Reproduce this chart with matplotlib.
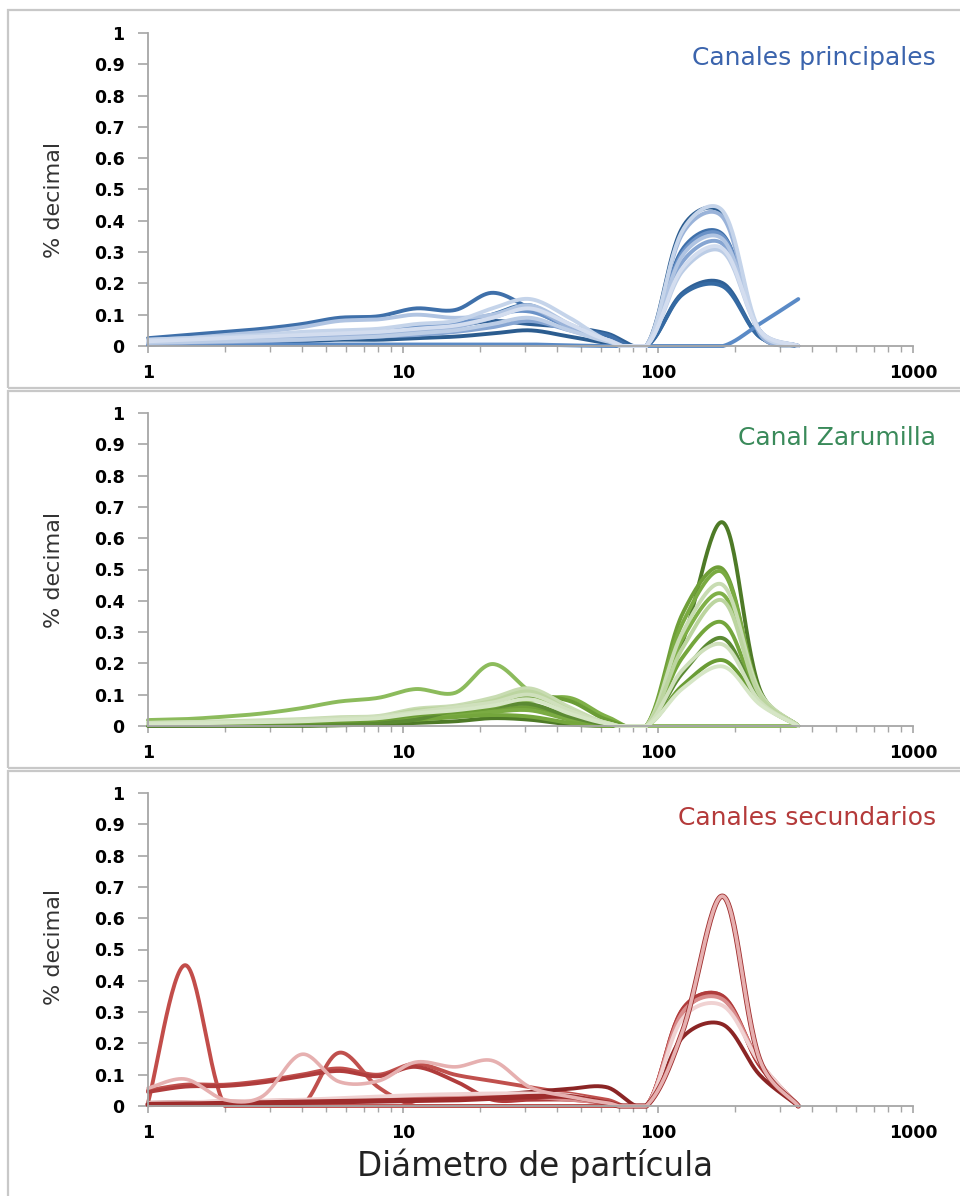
import numpy as np
import matplotlib.pyplot as plt
from matplotlib.patches import Rectangle
from matplotlib.ticker import FixedLocator, NullFormatter

# diametros de tamiz (serie raiz de 2)
diametro = [1, 1.4, 2, 2.8, 4, 5.6, 8, 11.2, 16, 22.4, 31.5, 45, 63, 90, 125, 180, 250, 355]

# Canales principales
principales = [
    [0.005, 0.01, 0.015, 0.02, 0.03, 0.04, 0.045, 0.06, 0.065, 0.08, 0.07, 0.06, 0.04, 0, 0.17, 0.20, 0.03, 0],
    [0.01, 0.015, 0.02, 0.025, 0.03, 0.035, 0.04, 0.05, 0.06, 0.10, 0.13, 0.06, 0.03, 0, 0.165, 0.19, 0.03, 0],
    [0.005, 0.008, 0.01, 0.012, 0.015, 0.02, 0.02, 0.025, 0.03, 0.04, 0.05, 0.03, 0.01, 0, 0.38, 0.42, 0.04, 0],
    [0.025, 0.035, 0.045, 0.055, 0.07, 0.09, 0.095, 0.12, 0.115, 0.17, 0.12, 0.06, 0.035, 0, 0.31, 0.355, 0.05, 0],
    [0.005, 0.005, 0.005, 0.005, 0.005, 0.005, 0.005, 0.005, 0.005, 0.005, 0.005, 0.002, 0, 0, 0, 0, 0.07, 0.15],
    [0.01, 0.015, 0.02, 0.025, 0.03, 0.04, 0.045, 0.06, 0.07, 0.10, 0.11, 0.06, 0.02, 0, 0.30, 0.35, 0.05, 0],
    [0.005, 0.01, 0.012, 0.015, 0.02, 0.025, 0.03, 0.035, 0.045, 0.06, 0.08, 0.05, 0.02, 0, 0.27, 0.325, 0.05, 0],
    [0.01, 0.015, 0.02, 0.025, 0.03, 0.035, 0.04, 0.05, 0.06, 0.09, 0.12, 0.06, 0.02, 0, 0.36, 0.41, 0.04, 0],
    [0.02, 0.025, 0.035, 0.045, 0.06, 0.08, 0.085, 0.10, 0.09, 0.10, 0.13, 0.07, 0.02, 0, 0.29, 0.34, 0.05, 0],
    [0.01, 0.012, 0.015, 0.018, 0.02, 0.025, 0.03, 0.04, 0.05, 0.07, 0.09, 0.05, 0.015, 0, 0.24, 0.30, 0.05, 0],
    [0.02, 0.025, 0.03, 0.035, 0.045, 0.05, 0.055, 0.07, 0.08, 0.12, 0.15, 0.09, 0.02, 0, 0.37, 0.43, 0.05, 0],
    [0.015, 0.02, 0.025, 0.03, 0.035, 0.04, 0.045, 0.055, 0.065, 0.09, 0.12, 0.07, 0.02, 0, 0.25, 0.31, 0.05, 0],
]
principales_colores = ['#2f6096', '#356aa3', '#2b5c8f', '#3f70aa', '#5a8ac6', '#6b92c7',
                       '#86a5d2', '#9ab3d9', '#b0c4e2', '#bccde6', '#c5d4ea', '#d3ddef']

# Canal Zarumilla
zarumilla = [
    [0.019, 0.022, 0.03, 0.04, 0.057, 0.078, 0.09, 0.118, 0.106, 0.198, 0.11, 0.035, 0, 0, 0, 0, 0, 0],
    [0, 0, 0, 0, 0, 0.002, 0.005, 0.01, 0.015, 0.025, 0.02, 0.005, 0, 0, 0.27, 0.65, 0.12, 0],
    [0.005, 0.006, 0.008, 0.01, 0.012, 0.015, 0.02, 0.03, 0.04, 0.05, 0.06, 0.03, 0.005, 0, 0.36, 0.50, 0.11, 0],
    [0.004, 0.005, 0.006, 0.008, 0.01, 0.012, 0.015, 0.025, 0.035, 0.045, 0.05, 0.02, 0, 0, 0.33, 0.49, 0.11, 0],
    [0.005, 0.006, 0.008, 0.01, 0.013, 0.018, 0.022, 0.04, 0.05, 0.07, 0.08, 0.09, 0.03, 0, 0.28, 0.42, 0.10, 0],
    [0.003, 0.004, 0.005, 0.006, 0.008, 0.01, 0.012, 0.02, 0.028, 0.035, 0.03, 0.01, 0, 0, 0.22, 0.33, 0.09, 0],
    [0.002, 0.003, 0.004, 0.005, 0.006, 0.008, 0.01, 0.02, 0.05, 0.06, 0.07, 0.03, 0.005, 0, 0.17, 0.28, 0.08, 0],
    [0.005, 0.006, 0.008, 0.01, 0.012, 0.015, 0.02, 0.035, 0.045, 0.06, 0.095, 0.08, 0.02, 0, 0.13, 0.21, 0.08, 0],
    [0.01, 0.012, 0.015, 0.018, 0.022, 0.028, 0.032, 0.055, 0.065, 0.09, 0.12, 0.06, 0.01, 0, 0.30, 0.45, 0.11, 0],
    [0.008, 0.01, 0.012, 0.015, 0.018, 0.024, 0.028, 0.05, 0.06, 0.08, 0.11, 0.05, 0.01, 0, 0.25, 0.40, 0.10, 0],
    [0.01, 0.012, 0.014, 0.016, 0.02, 0.025, 0.03, 0.045, 0.06, 0.075, 0.10, 0.05, 0.01, 0, 0.18, 0.26, 0.08, 0],
    [0.006, 0.008, 0.01, 0.012, 0.015, 0.02, 0.025, 0.04, 0.05, 0.065, 0.085, 0.04, 0.008, 0, 0.12, 0.19, 0.07, 0],
]
zarumilla_colores = ['#8cbb5c', '#4e7a27', '#6f9f38', '#7aab42', '#7fb047', '#74a63c',
                     '#5b8a33', '#6a9c35', '#c8dcb2', '#bcd5a0', '#cfe0bc', '#d6e6c6']

# Canales secundarios
secundarios = [
    [0.01, 0.45, 0, 0, 0, 0, 0, 0, 0, 0, 0, 0, 0, 0, 0.30, 0.345, 0.13, 0],
    [0.005, 0.005, 0.005, 0.005, 0, 0.17, 0.06, 0, 0, 0, 0, 0, 0, 0, 0.31, 0.35, 0.14, 0],
    [0.05, 0.068, 0.068, 0.08, 0.10, 0.12, 0.10, 0.135, 0.10, 0.08, 0.06, 0.04, 0.02, 0, 0.30, 0.345, 0.14, 0],
    [0.045, 0.062, 0.064, 0.075, 0.095, 0.112, 0.095, 0.125, 0.08, 0.02, 0.02, 0.02, 0.01, 0, 0.31, 0.35, 0.13, 0],
    [0.01, 0.012, 0.014, 0.016, 0.018, 0.02, 0.022, 0.025, 0.03, 0.035, 0.045, 0.055, 0.06, 0, 0.22, 0.26, 0.10, 0],
    [0.008, 0.01, 0.012, 0.014, 0.016, 0.02, 0.022, 0.03, 0.033, 0.035, 0.03, 0.02, 0.01, 0, 0.30, 0.34, 0.14, 0],
    [0.01, 0.012, 0.015, 0.017, 0.02, 0.025, 0.03, 0.035, 0.038, 0.04, 0.04, 0.035, 0.01, 0, 0.28, 0.32, 0.14, 0],
    [0.005, 0.006, 0.008, 0.01, 0.012, 0.014, 0.016, 0.018, 0.02, 0.025, 0.03, 0.03, 0.01, 0, 0.24, 0.67, 0.15, 0],
    [0.057, 0.086, 0.02, 0.03, 0.165, 0.078, 0.08, 0.14, 0.125, 0.145, 0.06, 0.03, 0.01, 0, 0.24, 0.67, 0.15, 0],
]
secundarios_colores = ['#c24d4a', '#c0504d', '#c0504d', '#b03c3c', '#8b2525', '#d98c8c',
                       '#f0d2d2', '#9e2c2c', '#e6b0b0']
secundarios_anchos = [2.8, 2.8, 2.8, 2.8, 2.8, 2.8, 2.8, 3.8, 2.6]

paneles = [
    ('Canales principales', '#3b64ad', principales, principales_colores, None, 200),
    ('Canal Zarumilla', '#3a8a5a', zarumilla, zarumilla_colores, None, 570),
    ('Canales secundarios', '#b43a3a', secundarios, secundarios_colores, secundarios_anchos, 947),
]

PX_DEC, PX_UNI = 255.0, 313.0   # pixeles por decada / por unidad en pantalla


def suavizar(x, y, n=30, tension=1/3, mezcla=0.6):
    # linea suavizada tipo Excel: Bezier, control mitad uniforme y mitad por cuerda
    P = np.column_stack([np.log10(x) * PX_DEC, np.asarray(y, float) * PX_UNI])
    t = np.linspace(0, 1, n, endpoint=False)[:, None]
    tramos = []
    for i in range(len(P) - 1):
        P0 = P[i - 1] if i > 0 else P[i]
        P1, P2 = P[i], P[i + 1]
        P3 = P[i + 2] if i + 2 < len(P) else P[i + 1]
        d01 = np.hypot(*(P1 - P0))
        d12 = np.hypot(*(P2 - P1))
        d23 = np.hypot(*(P3 - P2))
        w1 = mezcla * 0.5 + (1 - mezcla) * d12 / (d01 + d12)
        w2 = mezcla * 0.5 + (1 - mezcla) * d12 / (d12 + d23)
        c1 = P1 + tension * w1 * (P2 - P0)
        c2 = P2 - tension * w2 * (P3 - P1)
        tramos.append((1 - t)**3 * P1 + 3 * (1 - t)**2 * t * c1
                      + 3 * (1 - t) * t**2 * c2 + t**3 * P2)
    tramos.append(P[-1:])
    C = np.vstack(tramos)
    return 10**(C[:, 0] / PX_DEC), np.maximum(C[:, 1] / PX_UNI, 0)


W, H = 960, 1196
fig = plt.figure(figsize=(W/100, H/100), dpi=100)

marcos = [(8, 10, 990, 388), (8, 391, 990, 768), (8, 771, 990, 1220)]
for x0, y0, x1, y1 in marcos:
    fig.patches.append(Rectangle((x0/W, 1 - y1/H), (x1 - x0)/W, (y1 - y0)/H,
                                 transform=fig.transFigure, fill=False,
                                 edgecolor='#c8c8c8', lw=1.6))

ejes_y = [(33, 346), (413, 726), (793, 1106)]
gris = '#a6a6a6'
for (titulo, color_t, series, colores, anchos, ylab_y), (top, bot) in zip(paneles, ejes_y):
    ax = fig.add_axes([148/W, 1 - bot/H, (913 - 148)/W, (bot - top)/H])
    for k, (vals, c) in enumerate(zip(series, colores)):
        xs, ys = suavizar(diametro, vals)
        lw = anchos[k] if anchos else 2.8
        ax.plot(xs, ys, color=c, lw=lw, solid_capstyle='round', clip_on=False)
    ax.set_xscale('log')
    ax.set_xlim(1, 1000)
    ax.set_ylim(0, 1)
    for s in ['top', 'right']:
        ax.spines[s].set_visible(False)
    for s in ['left', 'bottom']:
        ax.spines[s].set_color(gris)
        ax.spines[s].set_linewidth(1.3)
    ax.yaxis.set_major_locator(FixedLocator(np.arange(0, 1.01, 0.1)))
    ax.set_yticklabels(['0'] + ['%.1f' % v for v in np.arange(0.1, 0.95, 0.1)] + ['1'])
    ax.xaxis.set_major_locator(FixedLocator([1, 10, 100, 1000]))
    ax.set_xticklabels(['1', '10', '100', '1000'])
    menores = [m * 10**d for d in range(3) for m in range(2, 10)]
    ax.xaxis.set_minor_locator(FixedLocator(menores))
    ax.xaxis.set_minor_formatter(NullFormatter())
    ax.tick_params(axis='y', length=7, width=1.2, color=gris, pad=10)
    ax.tick_params(axis='x', which='major', length=5, width=1.2, color=gris, pad=8)
    ax.tick_params(axis='x', which='minor', length=4, width=1.0, color=gris)
    for lab in ax.get_xticklabels() + ax.get_yticklabels():
        lab.set_fontweight('bold')
        lab.set_fontsize(12.5)
        lab.set_fontfamily('DejaVu Sans')
    ax.patch.set_alpha(0)
    fig.text(54/W, 1 - ylab_y/H, '% decimal', rotation=90, ha='center', va='center',
             fontsize=16, color='#333333', family='DejaVu Sans')
    fig.text(936/W, 1 - (top + 25)/H, titulo, ha='right', va='center',
             fontsize=18, color=color_t, family='DejaVu Sans')

fig.text(535/W, 1 - 1166/H, 'Diámetro de partícula', ha='center', va='center',
         fontsize=23.5, color='#222222', family='DejaVu Sans')

fig.savefig('out.png', dpi=100)
